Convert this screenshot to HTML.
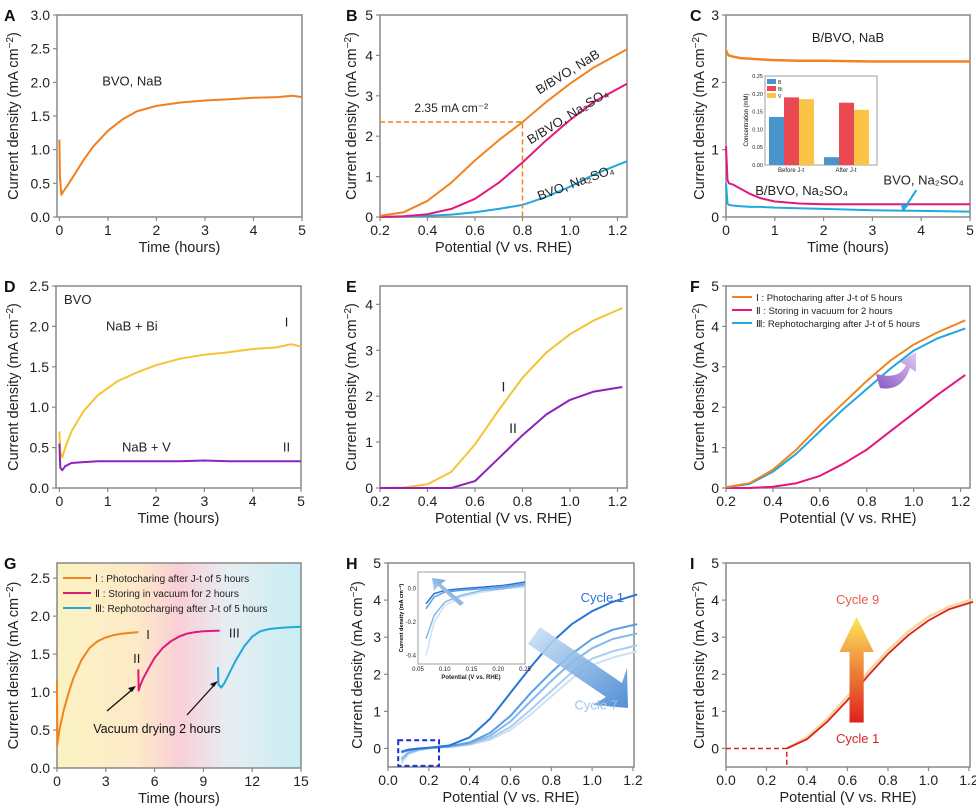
<!DOCTYPE html>
<html><head><meta charset="utf-8">
<style>
html,body{margin:0;padding:0;background:#fff;}
svg{display:block;font-family:"Liberation Sans",Arial,sans-serif;}
</style></head>
<body>
<svg id="fig" width="976" height="810" viewBox="0 0 976 810">
<defs>
<linearGradient id="gBg" x1="0" x2="1" y1="0" y2="0">
<stop offset="0" stop-color="#fbf3c2"/><stop offset="0.33" stop-color="#fde9c8"/><stop offset="0.5" stop-color="#f9cfd6"/><stop offset="0.7" stop-color="#e6eef2"/><stop offset="1" stop-color="#c8eef4"/></linearGradient>
<linearGradient id="hArrow" x1="0" y1="0" x2="1" y2="1"><stop offset="0" stop-color="#cfe3f7"/><stop offset="1" stop-color="#3f84d0"/></linearGradient>
<linearGradient id="hArrow2" x1="1" y1="0" x2="0" y2="1"><stop offset="0" stop-color="#3f84d0"/><stop offset="1" stop-color="#e3effa"/></linearGradient>
<linearGradient id="iArrow" x1="0" y1="1" x2="0" y2="0"><stop offset="0" stop-color="#e0201b"/><stop offset="1" stop-color="#fbe85a"/></linearGradient>
<linearGradient id="fArrow" x1="0" y1="1" x2="1" y2="0"><stop offset="0" stop-color="#8a55c4"/><stop offset="1" stop-color="#e2c9f5"/></linearGradient>
</defs>
</svg>
<script>
// ---- data ----
const aTime=[0,0.01,0.04,0.08,0.15,0.3,0.5,0.7,1,1.3,1.6,2,2.5,3,3.5,4,4.5,4.8,5];
const aJ=[1.15,0.6,0.33,0.38,0.45,0.62,0.85,1.05,1.28,1.45,1.57,1.65,1.7,1.73,1.75,1.77,1.78,1.8,1.78];
const bV=[0.2,0.3,0.4,0.5,0.6,0.7,0.8,0.9,1.0,1.1,1.24];
const bNaB=[0.03,0.12,0.4,0.85,1.4,1.9,2.35,2.85,3.3,3.7,4.15];
const bBNa2SO4=[0,0.02,0.07,0.2,0.45,0.85,1.35,1.9,2.4,2.85,3.3];
const bBVONa2SO4=[0,0.01,0.03,0.06,0.12,0.2,0.3,0.5,0.75,1.05,1.38];
const cTime=[0,0.03,0.06,0.15,0.3,0.5,0.7,1,1.5,2,3,4,5];
const cNaB=[2.48,2.42,2.4,2.38,2.36,2.35,2.34,2.33,2.32,2.32,2.31,2.31,2.31];
const cBNa=[1.05,0.55,0.5,0.48,0.42,0.34,0.28,0.23,0.2,0.19,0.19,0.19,0.19];
const cBVO=[0.5,0.2,0.18,0.17,0.16,0.15,0.15,0.14,0.13,0.12,0.1,0.09,0.08];
const insetGroups=["Before J-t","After J-t"];
const insetB=[0.135,0.022];
const insetBi=[0.19,0.175];
const insetVv=[0.185,0.155];
const dTime=[0,0.02,0.06,0.12,0.25,0.5,0.8,1.2,1.6,2,2.5,3,3.5,4,4.5,4.8,5];
const dBi=[0.7,0.45,0.38,0.5,0.7,0.95,1.15,1.32,1.43,1.52,1.6,1.65,1.68,1.72,1.74,1.78,1.75];
const dV=[0.55,0.25,0.22,0.27,0.31,0.32,0.33,0.33,0.33,0.33,0.33,0.34,0.33,0.33,0.33,0.33,0.33];
const eV=[0.2,0.3,0.4,0.5,0.6,0.7,0.8,0.9,1.0,1.1,1.22];
const eI=[0,0.01,0.08,0.35,0.95,1.7,2.4,2.95,3.35,3.65,3.92];
const eII=[0,0,0,0,0.15,0.65,1.15,1.6,1.92,2.1,2.2];
const fV=[0.2,0.3,0.4,0.5,0.6,0.7,0.8,0.9,1.0,1.1,1.22];
const fI=[0.02,0.12,0.45,0.95,1.55,2.1,2.65,3.15,3.55,3.85,4.15];
const fII=[0,0,0.03,0.12,0.3,0.6,0.95,1.4,1.85,2.3,2.8];
const fIII=[0.02,0.1,0.4,0.85,1.4,1.95,2.45,2.95,3.4,3.7,3.95];
const gT1=[0,0.02,0.15,0.4,0.7,1,1.5,2,2.5,3,3.5,4,4.5,5];
const gJ1=[1.15,0.3,0.5,0.75,0.98,1.18,1.42,1.58,1.67,1.72,1.75,1.77,1.78,1.79];
const gT2=[5,5.02,5.1,5.3,5.6,6,6.5,7,7.5,8,8.5,9,10];
const gJ2=[1.3,1.02,1.08,1.18,1.3,1.45,1.58,1.67,1.73,1.77,1.79,1.8,1.81];
const gT3=[9.9,9.92,10.1,10.3,10.6,11,11.5,12,12.5,13,13.5,14,15];
const gJ3=[1.33,1.1,1.06,1.12,1.25,1.42,1.6,1.73,1.8,1.83,1.84,1.85,1.86];
const hV=[0.065,0.1,0.15,0.2,0.3,0.4,0.5,0.6,0.7,0.8,0.9,1.0,1.1,1.22];
const hC1=[-0.09,-0.03,0,0.02,0.08,0.3,0.8,1.5,2.2,2.85,3.35,3.7,3.95,4.15];
const hC2=[-0.11,-0.05,-0.01,0.02,0.06,0.16,0.42,0.88,1.5,2.05,2.55,2.95,3.2,3.35];
const hC3=[-0.28,-0.11,-0.03,0.01,0.05,0.13,0.34,0.73,1.28,1.82,2.32,2.7,2.95,3.1];
const hC5=[-0.33,-0.13,-0.04,0.01,0.04,0.11,0.27,0.58,1.05,1.55,2.05,2.42,2.62,2.78];
const hC7=[-0.4,-0.15,-0.05,0.0,0.04,0.1,0.23,0.5,0.92,1.4,1.88,2.25,2.45,2.62];
const iV=[0.3,0.4,0.5,0.6,0.7,0.8,0.9,1.0,1.1,1.22];
const iC1=[0,0.25,0.72,1.3,1.95,2.55,3.05,3.45,3.75,3.95];
const iC9=[0,0.3,0.8,1.4,2.05,2.65,3.15,3.55,3.82,4.02];

const NS="http://www.w3.org/2000/svg";
const svg=document.getElementById('fig');
function mk(tag,attrs,parent){const e=document.createElementNS(NS,tag);for(const k in attrs)e.setAttribute(k,attrs[k]);(parent||svg).appendChild(e);return e;}
function txt(s,x,y,size,parent,anchor,fill,weight){const t=mk('text',{x:x,y:y,'font-size':size,'text-anchor':anchor||'middle',fill:fill||'#222','font-weight':weight||'normal'},parent);t.textContent=s;return t;}

function panel(p){
  const g=mk('g',{});
  
  
  if(p.bg){const r=mk('rect',{x:p.x0,y:p.y0,width:p.x1-p.x0,height:p.y1-p.y0,fill:p.bg},g);
    
    }
  const sx=v=>p.x0+(v-p.xd[0])/(p.xd[1]-p.xd[0])*(p.x1-p.x0);
  const sy=v=>p.y1-(v-p.yd[0])/(p.yd[1]-p.yd[0])*(p.y1-p.y0);
  const fr=mk('rect',{x:p.x0,y:p.y0,width:p.x1-p.x0,height:p.y1-p.y0,fill:'none',stroke:'#888','stroke-width':1.5},g);
  
  
  p.xt.forEach((v,i)=>{const x=sx(v);mk('line',{x1:x,x2:x,y1:p.y1,y2:p.y1+4,stroke:'#888','stroke-width':1.2},g);
    const t=txt(p.xl[i],x,p.y1+18,14,g);
    
    });
  p.yt.forEach((v,i)=>{const y=sy(v);mk('line',{x1:p.x0-4,x2:p.x0,y1:y,y2:y,stroke:'#888','stroke-width':1.2},g);
    const t=txt(p.yl[i],p.x0-7,y+5,14,g,'end');
    
    });
  const xl=txt(p.xtitle,(p.x0+p.x1)/2,p.y1+35,14.5,g);
  
  
  const cy=(p.y0+p.y1)/2, cx=p.ytx;
  const yl=mk('text',{x:cx,y:cy,'font-size':14.5,'text-anchor':'middle',fill:'#222',transform:`rotate(-90 ${cx} ${cy})`},g);
  yl.innerHTML='Current density (mA cm<tspan baseline-shift="super" font-size="10">−2</tspan>)';
  
  
  const L=txt(p.letter,p.lx,p.y0+6,16,g,'start','#111','bold');
  
  
  return {g,sx,sy};
}
function line(P,xs,ys,color,w,name){
  const d=xs.map((x,i)=>(i?'L':'M')+P.sx(x).toFixed(1)+','+P.sy(ys[i]).toFixed(1)).join('');
  const e=mk('path',{d:d,fill:'none',stroke:color,'stroke-width':w||2,'stroke-linejoin':'round'},P.g);
  
  
  return e;
}
function label(P,s,x,y,size,color,name,anchor,rot){
  const t=txt(s,x,y,size||13,P.g,anchor||'middle',color||'#222');
  if(rot)t.setAttribute('transform',`rotate(${rot} ${x} ${y})`);
  
  
  return t;
}
const r5=[0,1,2,3,4,5].map(String);
const pot=['0.2','0.4','0.6','0.8','1.0','1.2'], potv=[0.2,0.4,0.6,0.8,1.0,1.2];

// A
const A=panel({letter:'A',lx:4,x0:57,x1:302,y0:15,y1:217,xd:[-0.05,5],yd:[0,3],xt:[0,1,2,3,4,5],xl:r5,yt:[0,0.5,1,1.5,2,2.5,3],yl:['0.0','0.5','1.0','1.5','2.0','2.5','3.0'],xtitle:'Time (hours)',ytx:18});
line(A,aTime,aJ,'#f07f1e',2,'bvo-nab-curve');
label(A,'BVO, NaB',A.sx(1.5),A.sy(1.95),13,'#222','series-label-bvo-nab');

// B
const B=panel({letter:'B',lx:346,x0:380,x1:627,y0:15,y1:217,xd:[0.2,1.24],yd:[0,5],xt:potv,xl:pot,yt:[0,1,2,3,4,5],yl:r5,xtitle:'Potential (V vs. RHE)',ytx:356});
line(B,bV,bBVONa2SO4,'#1fa9dc',2,'bvo-na2so4-curve');
line(B,bV,bBNa2SO4,'#e2187f',2,'b-bvo-na2so4-curve');
line(B,bV,bNaB,'#f0841e',2,'b-bvo-nab-curve');
mk('path',{d:`M${B.sx(0.2)},${B.sy(2.35)}H${B.sx(0.8)}V${B.sy(0)}`,fill:'none',stroke:'#f0841e','stroke-width':1.5,'stroke-dasharray':'5,3'},B.g);
label(B,'2.35 mA cm⁻²',B.sx(0.5),B.sy(2.6),12,'#222','annotation-2.35');
label(B,'B/BVO, NaB',B.sx(1.0),B.sy(3.5),13,'#222','label-b-bvo-nab','middle',-32);
label(B,'B/BVO, Na₂SO₄',B.sx(1.0),B.sy(2.4),13,'#222','label-b-bvo-na2so4','middle',-32);
label(B,'BVO, Na₂SO₄',B.sx(1.03),B.sy(0.75),13,'#222','label-bvo-na2so4','middle',-20);

// C
const C=panel({letter:'C',lx:690,x0:726,x1:970,y0:15,y1:217,xd:[0,5],yd:[0,3],xt:[0,1,2,3,4,5],xl:r5,yt:[0,1,2,3],yl:['0','1','2','3'],xtitle:'Time (hours)',ytx:704});
line(C,cTime,cNaB,'#f0841e',2.5,'b-bvo-nab-curve');
line(C,cTime,cBNa,'#e2187f',2,'b-bvo-na2so4-curve');
line(C,cTime,cBVO,'#1fa9dc',2,'bvo-na2so4-curve');
label(C,'B/BVO, NaB',C.sx(2.5),C.sy(2.6),13,'#222','label-b-bvo-nab');
label(C,'B/BVO, Na₂SO₄',C.sx(1.55),C.sy(0.33),13,'#222','label-b-bvo-na2so4');
label(C,'BVO, Na₂SO₄',C.sx(4.05),C.sy(0.48),13,'#222','label-bvo-na2so4');
mk('path',{d:`M${C.sx(3.9)},${C.sy(0.4)}L${C.sx(3.65)},${C.sy(0.12)}`,stroke:'#1fa9dc','stroke-width':2,fill:'none'},C.g);
mk('path',{d:`M${C.sx(3.62)},${C.sy(0.08)}l-2,-8l8,2z`,fill:'#1fa9dc'},C.g);
// inset
const ins=mk('g',{},C.g);


mk('rect',{x:765,y:76,width:112,height:89,fill:'#fff',stroke:'#888','stroke-width':0.8},ins);
const iy=v=>165-v/0.25*89;
[0,0.05,0.1,0.15,0.2,0.25].forEach(v=>{const t=txt(v.toFixed(2),763,iy(v)+2,5.5,ins,'end');});
const iyl=mk('text',{x:748,y:120,'font-size':6,'text-anchor':'middle',transform:'rotate(-90 748 120)'},ins);iyl.textContent='Concentration (mM)';
insetGroups.forEach((gname,gi)=>{
  const gx=769+gi*55;
  [[insetB,'#4a94cc'],[insetBi,'#ea4852'],[insetVv,'#fbc447']].forEach((s,si)=>{
    const r=mk('rect',{x:gx+si*15,y:iy(s[0][gi]),width:15,height:165-iy(s[0][gi]),fill:s[1]},ins);
    
    
  });
  const t=txt(gname,gx+22,172,6,ins);
});
[['B','#4a94cc'],['Bi','#ea4852'],['V','#fbc447']].forEach((l,i)=>{mk('rect',{x:767,y:79+i*7,width:9,height:5,fill:l[1]},ins);txt(l[0],778,84+i*7,5,ins,'start');});

// D
const D=panel({letter:'D',lx:4,x0:56,x1:301,y0:286,y1:488,xd:[-0.07,5],yd:[0,2.5],xt:[0,1,2,3,4,5],xl:r5,yt:[0,0.5,1,1.5,2,2.5],yl:['0.0','0.5','1.0','1.5','2.0','2.5'],xtitle:'Time (hours)',ytx:18});
line(D,dTime,dBi,'#f6c430',2,'nab-bi-curve');
line(D,dTime,dV,'#8d22bd',2,'nab-v-curve');
label(D,'BVO',64,304,13,'#222','label-bvo','start');
label(D,'NaB + Bi',D.sx(1.5),D.sy(1.95),13,'#222','label-nab-bi');
label(D,'I',D.sx(4.7),D.sy(2.0),13,'#222','label-I');
label(D,'NaB + V',D.sx(1.8),D.sy(0.45),13,'#222','label-nab-v');
label(D,'II',D.sx(4.7),D.sy(0.45),13,'#222','label-II');

// E
const E=panel({letter:'E',lx:346,x0:380,x1:627,y0:286,y1:488,xd:[0.2,1.24],yd:[0,4.4],xt:potv,xl:pot,yt:[0,1,2,3,4],yl:['0','1','2','3','4'],xtitle:'Potential (V vs. RHE)',ytx:356});
line(E,eV,eI,'#f6c430',2,'curve-I');
line(E,eV,eII,'#8d22bd',2,'curve-II');
label(E,'I',E.sx(0.72),E.sy(2.1),14,'#222','label-I');
label(E,'II',E.sx(0.76),E.sy(1.2),14,'#222','label-II');

// F
const F=panel({letter:'F',lx:690,x0:726,x1:970,y0:286,y1:488,xd:[0.2,1.24],yd:[0,5],xt:potv,xl:pot,yt:[0,1,2,3,4,5],yl:r5,xtitle:'Potential (V vs. RHE)',ytx:704});
line(F,fV,fII,'#e2187f',2,'curve-II');
line(F,fV,fIII,'#1fa9dc',2,'curve-III');
line(F,fV,fI,'#f0841e',2,'curve-I');
mk('path',{d:'M876,374 Q900,380 906,365 L900,362 L916,352 L916,372 L910,368 Q902,392 880,388 Z',fill:'url(#fArrow)'},F.g);
[['Ⅰ : Photocharing after J-t of 5 hours','#f0841e'],['Ⅱ : Storing in vacuum for 2 hours','#e2187f'],['Ⅲ: Rephotocharging after J-t of 5 hours','#1fa9dc']].forEach((l,i)=>{
  mk('line',{x1:732,x2:752,y1:297+i*13,y2:297+i*13,stroke:l[1],'stroke-width':2},F.g);
  const t=txt(l[0],756,301+i*13,9.5,F.g,'start');
});

// G
const G=panel({letter:'G',lx:4,x0:57,x1:301,y0:563,y1:768,xd:[0,15],yd:[0,2.7],xt:[0,3,6,9,12,15],xl:['0','3','6','9','12','15'],yt:[0,0.5,1,1.5,2,2.5],yl:['0.0','0.5','1.0','1.5','2.0','2.5'],xtitle:'Time (hours)',ytx:18,bg:'url(#gBg)'});
line(G,gT1,gJ1,'#f0841e',2,'curve-I');
line(G,gT2,gJ2,'#e2187f',2,'curve-II');
line(G,gT3,gJ3,'#1fa9dc',2,'curve-III');
[['Ⅰ : Photocharing after J-t of 5 hours','#f0841e'],['Ⅱ : Storing in vacuum for 2 hours','#e2187f'],['Ⅲ: Rephotocharging after J-t of 5 hours','#1fa9dc']].forEach((l,i)=>{
  mk('line',{x1:63,x2:91,y1:578+i*15,y2:578+i*15,stroke:l[1],'stroke-width':2},G.g);
  const t=txt(l[0],95,582+i*15,10,G.g,'start');
});
label(G,'I',G.sx(5.6),G.sy(1.7),13,'#222','label-I');
label(G,'II',G.sx(4.9),G.sy(1.38),13,'#222','label-II');
label(G,'III',G.sx(10.9),G.sy(1.72),13,'#222','label-III');
label(G,'Vacuum drying 2 hours',157,733,12.5,'#111','label-vacuum-drying');
mk('path',{d:'M107,711L134,688M187,715L216,683',stroke:'#111','stroke-width':1.3,fill:'none'},G.g);
mk('path',{d:'M136,686l-8,2l4,4zM218,681l-8,3l4,3z',fill:'#111'},G.g);

// H
const H=panel({letter:'H',lx:346,x0:388,x1:634,y0:563,y1:767,xd:[0,1.205],yd:[-0.5,5],xt:[0,0.2,0.4,0.6,0.8,1.0,1.2],xl:['0.0','0.2','0.4','0.6','0.8','1.0','1.2'],yt:[0,1,2,3,4,5],yl:r5,xtitle:'Potential (V vs. RHE)',ytx:362});
const hCols=['#cde2f5','#a9cdef','#86b9ea','#5b9fe3','#2a73d9'];
[hC7,hC5,hC3,hC2,hC1].forEach((c,i)=>line(H,hV,c,hCols[i],2,'cycle-curve-'+i));
mk('rect',{x:H.sx(0.05),y:H.sy(0.22),width:H.sx(0.25)-H.sx(0.05),height:H.sy(-0.47)-H.sy(0.22),fill:'none',stroke:'#1c2fd6','stroke-width':2,'stroke-dasharray':'5,3'},H.g);
mk('path',{d:'M540,627 L622,683 L627,668 L628,708 L593,705 L606,697 L528,644 Z',fill:'url(#hArrow)',opacity:0.9},H.g);
label(H,'Cycle 1',H.sx(1.05),H.sy(3.95),13,'#2a73d9','label-cycle-1');
label(H,'Cycle 7',H.sx(1.02),H.sy(1.05),13,'#9cc4ea','label-cycle-7');
const hi=mk('g',{},H.g);


mk('rect',{x:418,y:572,width:107,height:92,fill:'#fff',stroke:'#888','stroke-width':0.8},hi);
const ix=v=>418+(v-0.05)/0.2*107, iyy=v=>664-(v+0.45)/0.55*92;
const hiC1=[-0.09,-0.03,-0.01,0.0,0.01,0.02,0.04];
const hiC3=[-0.12,-0.05,-0.02,-0.01,0.0,0.01,0.03];
const hiC5=[-0.3,-0.16,-0.08,-0.04,-0.01,0.0,0.02];
const hiC7=[-0.4,-0.2,-0.1,-0.05,-0.02,0.0,0.01];
const hiX=[0.065,0.08,0.1,0.13,0.17,0.21,0.25];
[[hiC7,'#cde2f5'],[hiC5,'#86b9ea'],[hiC3,'#5b9fe3'],[hiC1,'#2a73d9']].forEach(s=>{
  const d=hiX.map((x,i)=>(i?'L':'M')+ix(x).toFixed(1)+','+iyy(s[0][i]).toFixed(1)).join('');
  const p=mk('path',{d:d,fill:'none',stroke:s[1],'stroke-width':1.5},hi);
  
  
});
mk('path',{d:'M460,606 L438,586 L434,591 L432,578 L446,580 L441,584 L464,603 Z',fill:'url(#hArrow2)'},hi);
[0.05,0.1,0.15,0.2,0.25].forEach(v=>{txt(v.toFixed(2),ix(v),671,6,hi);});
[[0,'0.0'],[-0.2,'-0.2'],[-0.4,'-0.4']].forEach(v=>{txt(v[1],416,iyy(v[0])+2,6,hi,'end');});
txt('Potential (V vs. RHE)',471,679,6,hi,'middle','#222','bold');
const hyl=mk('text',{x:403,y:618,'font-size':5.5,'font-weight':'bold','text-anchor':'middle',transform:'rotate(-90 403 618)'},hi);hyl.textContent='Current density (mA cm⁻²)';

// I
const I=panel({letter:'I',lx:690,x0:726,x1:970,y0:563,y1:767,xd:[0,1.205],yd:[-0.5,5],xt:[0,0.2,0.4,0.6,0.8,1.0,1.2],xl:['0.0','0.2','0.4','0.6','0.8','1.0','1.2'],yt:[0,1,2,3,4,5],yl:r5,xtitle:'Potential (V vs. RHE)',ytx:704});
mk('path',{d:`M${I.sx(0)},${I.sy(0)}H${I.sx(0.3)}V${I.sy(-0.5)}`,fill:'none',stroke:'#d9231f','stroke-width':1.5,'stroke-dasharray':'5,3'},I.g);
line(I,iV,iC9,'#f6d7a0',2.5,'cycle-9-curve');
line(I,iV,iC1,'#d9231f',1.8,'cycle-1-curve');
mk('path',{d:`M${I.sx(0.61)},${I.sy(0.7)}V${I.sy(2.6)}H${I.sx(0.56)}L${I.sx(0.645)},${I.sy(3.55)}L${I.sx(0.73)},${I.sy(2.6)}H${I.sx(0.68)}V${I.sy(0.7)}Z`,fill:'url(#iArrow)'},I.g);
label(I,'Cycle 9',I.sx(0.65),I.sy(3.9),13,'#ea5a4a','label-cycle-9');
label(I,'Cycle 1',I.sx(0.65),I.sy(0.15),13,'#d9231f','label-cycle-1');
</script>
</body></html>
